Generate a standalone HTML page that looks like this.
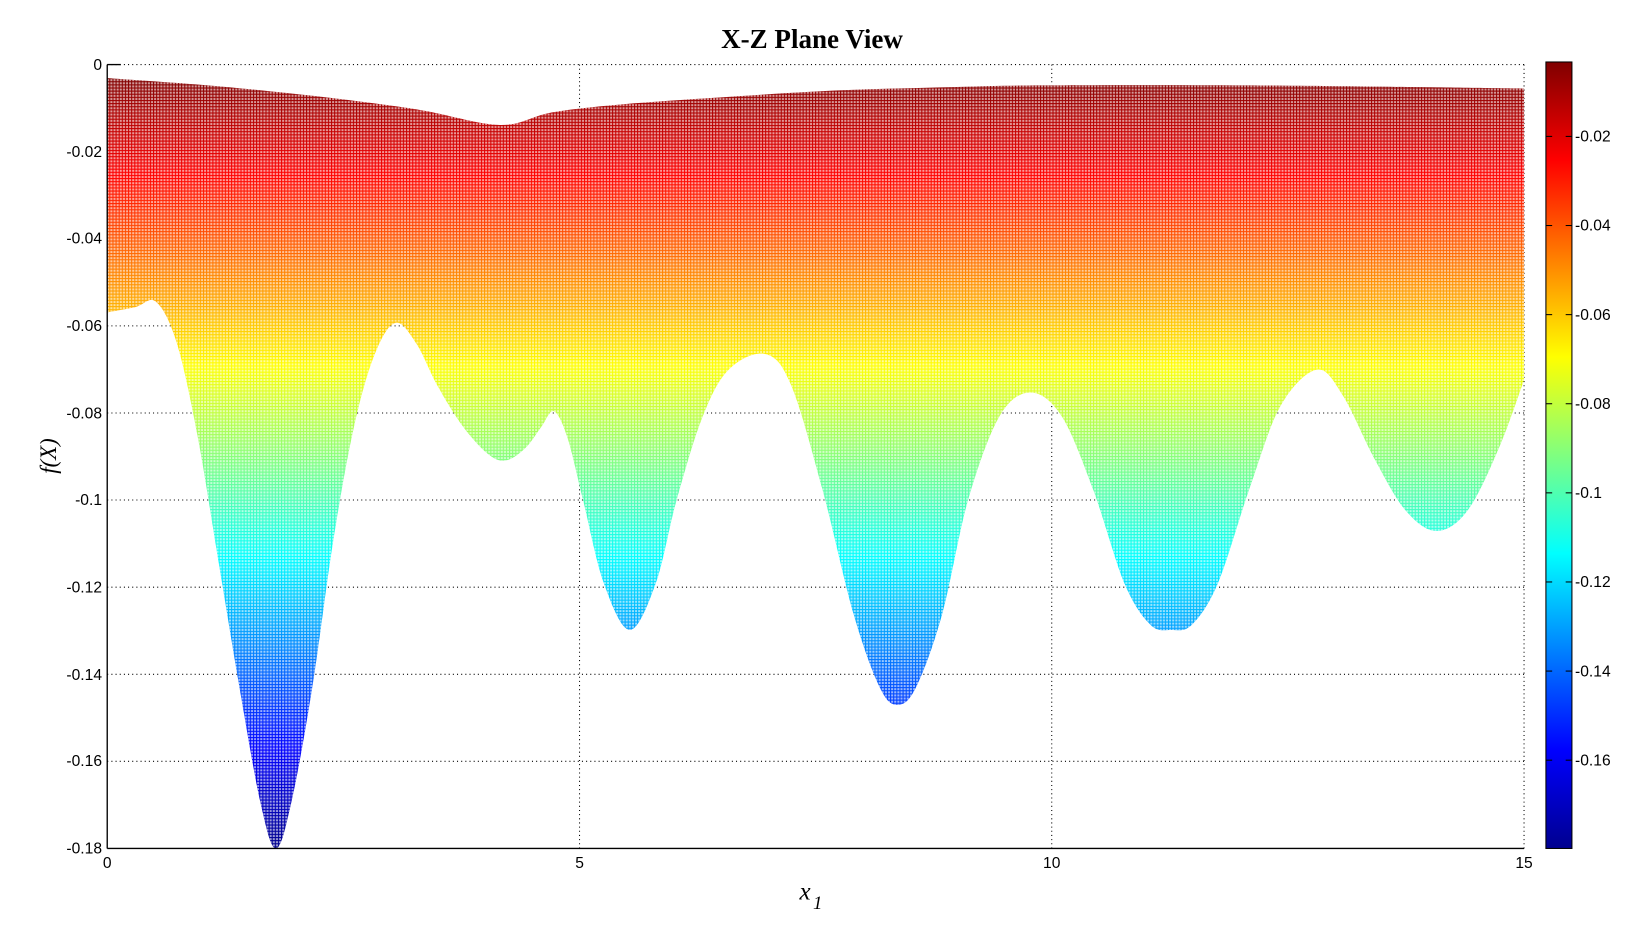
<!DOCTYPE html>
<html><head><meta charset="utf-8"><style>
html,body{margin:0;padding:0;background:#fff;}
svg{display:block;}
</style></head><body>
<svg width="1632" height="945" viewBox="0 0 1567.7 907.7" xmlns="http://www.w3.org/2000/svg">
<defs>
<linearGradient id="jet" gradientUnits="userSpaceOnUse" x1="0" y1="75.8" x2="0" y2="810.8">
<stop offset="0" stop-color="#800000"/>
<stop offset="0.125" stop-color="#ff0000"/>
<stop offset="0.375" stop-color="#ffff00"/>
<stop offset="0.625" stop-color="#00ffff"/>
<stop offset="0.875" stop-color="#0000ff"/>
<stop offset="1" stop-color="#00008f"/>
</linearGradient>
<linearGradient id="jetc" x1="0" y1="0" x2="0" y2="1">
<stop offset="0" stop-color="#800000"/>
<stop offset="0.125" stop-color="#ff0000"/>
<stop offset="0.375" stop-color="#ffff00"/>
<stop offset="0.625" stop-color="#00ffff"/>
<stop offset="0.875" stop-color="#0000ff"/>
<stop offset="1" stop-color="#00008f"/>
</linearGradient>
<pattern id="mesh" width="3" height="3" patternUnits="userSpaceOnUse">
<rect x="1" y="1" width="2" height="2" fill="#fff" opacity="0.6"/>
</pattern>
</defs>
<g stroke="#000" stroke-width="1" stroke-dasharray="1,3">
<line x1="103" y1="145.7" x2="1464" y2="145.7"/>
<line x1="103" y1="229.3" x2="1464" y2="229.3"/>
<line x1="103" y1="313" x2="1464" y2="313"/>
<line x1="103" y1="396.7" x2="1464" y2="396.7"/>
<line x1="103" y1="480.3" x2="1464" y2="480.3"/>
<line x1="103" y1="564" x2="1464" y2="564"/>
<line x1="103" y1="647.7" x2="1464" y2="647.7"/>
<line x1="103" y1="731.3" x2="1464" y2="731.3"/>
<line x1="556.7" y1="62" x2="556.7" y2="815"/>
<line x1="1010.3" y1="62" x2="1010.3" y2="815"/>
<line x1="103" y1="62" x2="1464" y2="62"/>
<line x1="1464" y1="62" x2="1464" y2="815"/>
</g>
<path id="s1" fill="url(#jet)" d=""/>
<path id="s2" fill="url(#mesh)" d=""/>
<g stroke="#000" stroke-width="1.3" fill="none">
<line x1="103" y1="62" x2="103" y2="815"/>
<line x1="103" y1="815" x2="1464" y2="815"/>
<line x1="103" y1="62" x2="116" y2="62"/>
</g>
<g font-family="Liberation Sans, sans-serif" font-size="15" fill="#000" text-anchor="end">
<text x="98" y="67">0</text>
<text x="98" y="151">-0.02</text>
<text x="98" y="234">-0.04</text>
<text x="98" y="318">-0.06</text>
<text x="98" y="402">-0.08</text>
<text x="98" y="485">-0.1</text>
<text x="98" y="569">-0.12</text>
<text x="98" y="653">-0.14</text>
<text x="98" y="736">-0.16</text>
<text x="98" y="820">-0.18</text>
</g>
<g font-family="Liberation Sans, sans-serif" font-size="15" fill="#000" text-anchor="middle">
<text x="103" y="834">0</text>
<text x="556.7" y="834">5</text>
<text x="1010.3" y="834">10</text>
<text x="1464" y="834">15</text>
</g>
<rect x="1485" y="59.5" width="25" height="755.5" fill="url(#jetc)" stroke="#000" stroke-width="1"/>
<g stroke="#000" stroke-width="1">
<line x1="1485" y1="131" x2="1491" y2="131"/><line x1="1504" y1="131" x2="1510" y2="131"/>
<line x1="1485" y1="216.6" x2="1491" y2="216.6"/><line x1="1504" y1="216.6" x2="1510" y2="216.6"/>
<line x1="1485" y1="302.2" x2="1491" y2="302.2"/><line x1="1504" y1="302.2" x2="1510" y2="302.2"/>
<line x1="1485" y1="387.8" x2="1491" y2="387.8"/><line x1="1504" y1="387.8" x2="1510" y2="387.8"/>
<line x1="1485" y1="473.4" x2="1491" y2="473.4"/><line x1="1504" y1="473.4" x2="1510" y2="473.4"/>
<line x1="1485" y1="559" x2="1491" y2="559"/><line x1="1504" y1="559" x2="1510" y2="559"/>
<line x1="1485" y1="644.6" x2="1491" y2="644.6"/><line x1="1504" y1="644.6" x2="1510" y2="644.6"/>
<line x1="1485" y1="730.2" x2="1491" y2="730.2"/><line x1="1504" y1="730.2" x2="1510" y2="730.2"/>
</g>
<g font-family="Liberation Sans, sans-serif" font-size="15" fill="#000">
<text x="1513" y="136">-0.02</text>
<text x="1513" y="221.6">-0.04</text>
<text x="1513" y="307.2">-0.06</text>
<text x="1513" y="392.8">-0.08</text>
<text x="1513" y="478.4">-0.1</text>
<text x="1513" y="564">-0.12</text>
<text x="1513" y="649.6">-0.14</text>
<text x="1513" y="735.2">-0.16</text>
</g>
<text x="780" y="46" font-family="Liberation Serif, serif" font-weight="bold" font-size="26" text-anchor="middle">X-Z Plane View</text>
<text x="768" y="864" font-family="Liberation Serif, serif" font-style="italic" font-size="24">x</text>
<text x="781" y="873" font-family="Liberation Serif, serif" font-style="italic" font-size="18">1</text>
<text transform="translate(54,438) rotate(-90)" font-family="Liberation Serif, serif" font-style="italic" font-size="22" text-anchor="middle">f(X)</text>
</svg>
<script>
var top_=[[103,75],[200,82],[300,92],[400,105],[480,120],[530,108],[600,100],[700,93],[800,87],[900,84],[1000,82],[1200,82],[1464,85]];
var low=[[1464,365],[1440,430],[1410,490],[1380,510],[1350,490],[1320,440],[1290,380],[1265,355],[1230,390],[1200,470],[1170,560],[1145,600],[1125,605],[1105,600],[1080,560],[1050,470],[1020,400],[990,377],[960,400],[930,480],[905,590],[880,660],[862,677],[845,660],[820,590],[790,470],[760,370],[735,340],[700,355],[675,400],[650,480],[630,560],[605,605],[580,560],[560,480],[545,420],[532,395],[520,410],[505,430],[487,442],[470,437],[445,410],[420,370],[400,330],[380,310],[360,340],[340,410],[320,520],[300,660],[280,770],[265,815],[250,770],[230,660],[210,540],[190,420],[170,330],[150,290],[130,295],[103,300]];
function cr(p){var d="";for(var i=0;i<p.length-1;i++){var p0=p[Math.max(i-1,0)],p1=p[i],p2=p[i+1],p3=p[Math.min(i+2,p.length-1)];
var c1=[p1[0]+(p2[0]-p0[0])/6,p1[1]+(p2[1]-p0[1])/6],c2=[p2[0]-(p3[0]-p1[0])/6,p2[1]-(p3[1]-p1[1])/6];
d+=" C"+c1[0]+","+c1[1]+" "+c2[0]+","+c2[1]+" "+p2[0]+","+p2[1];}return d;}
var d="M103,75"+cr(top_)+" L1464,365"+cr(low)+" Z";
document.getElementById("s1").setAttribute("d",d);
document.getElementById("s2").setAttribute("d",d);
</script>
</body></html>
